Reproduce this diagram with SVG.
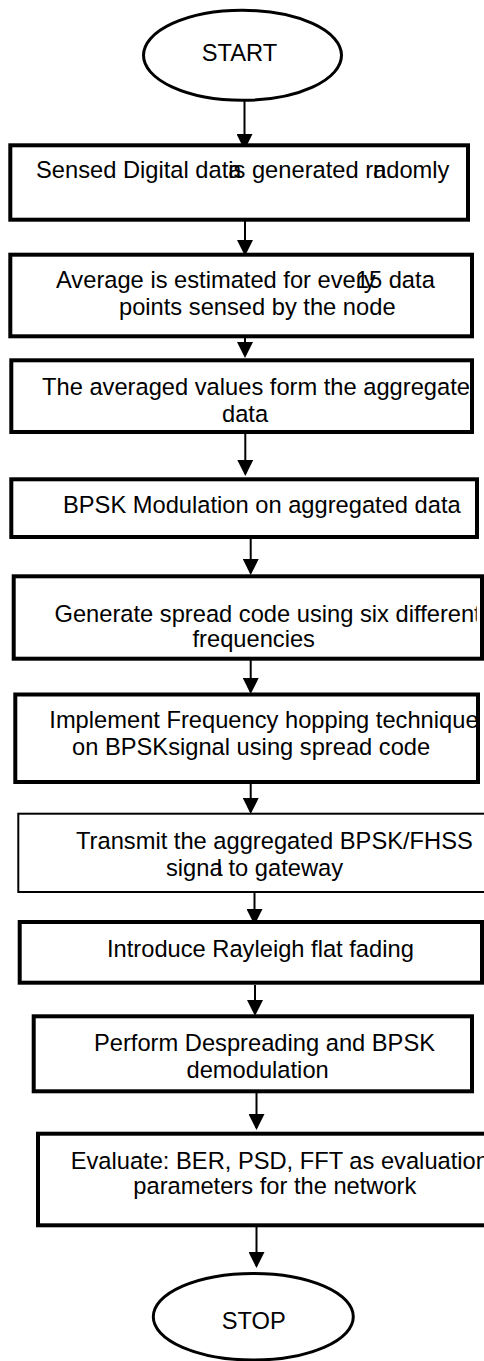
<svg xmlns="http://www.w3.org/2000/svg" width="484" height="1361" viewBox="0 0 484 1361">
<style>
.box{fill:#fff;stroke:#000;stroke-width:4}
.thin{stroke-width:2}
.term{fill:#fff;stroke:#000;stroke-width:3}
.t{font-family:"Liberation Sans",Arial,sans-serif;font-size:23.7px;fill:#000}
.conn{stroke:#000;stroke-width:2;fill:none;marker-end:url(#ah)}
</style>
<defs>
<marker id="ah" markerUnits="userSpaceOnUse" markerWidth="16" markerHeight="16" viewBox="0 0 16 16" refX="14" refY="8" orient="auto">
<path d="M0,0 L16,8 L0,16 z" fill="#000"/>
</marker>
<clipPath id="c3"><rect x="13.3" y="362" width="456.7" height="68"/></clipPath>
<clipPath id="c5"><rect x="15.7" y="578" width="461" height="78"/></clipPath>
<clipPath id="c6"><rect x="17.3" y="696" width="458.7" height="84"/></clipPath>
</defs>
<rect width="484" height="1361" fill="#fff"/>
<g id="connectors">
<line class="conn" x1="244.5" y1="100" x2="244.5" y2="148"/>
<line class="conn" x1="245" y1="221" x2="245" y2="254"/>
<line class="conn" x1="245" y1="338" x2="245" y2="356"/>
<line class="conn" x1="245.3" y1="434" x2="245.3" y2="474"/>
<line class="conn" x1="250.7" y1="539" x2="250.7" y2="573"/>
<line class="conn" x1="250.7" y1="660" x2="250.7" y2="692"/>
<line class="conn" x1="250.7" y1="784" x2="250.7" y2="812"/>
<line class="conn" x1="254.5" y1="892" x2="254.5" y2="923"/>
<line class="conn" x1="255" y1="985" x2="255" y2="1014"/>
<line class="conn" x1="256.5" y1="1093" x2="256.5" y2="1128"/>
<line class="conn" x1="256.5" y1="1227" x2="256.5" y2="1266"/>
</g>
<g id="start">
<ellipse class="term" cx="242.5" cy="55.3" rx="99" ry="45"/>
<text class="t" x="201.7" y="61">START</text>
</g>
<g id="n1">
<rect class="box" x="10.3" y="145.3" width="457.7" height="74.4"/>
<text class="t" x="36" y="178.3">Sensed Digital dat<tspan>a</tspan><tspan dx="-19.77"> is generated r</tspan>a<tspan dx="-13.2">ndomly</tspan></text>
</g>
<g id="n2">
<rect class="box" x="10.3" y="254.7" width="461.7" height="81.6"/>
<text class="t" x="56" y="288">Average is estimated for every<tspan dx="-26.3"> 15 data</tspan></text>
<text class="t" x="119" y="315">points sensed by the node</text>
</g>
<g id="n3">
<rect class="box" x="11.3" y="360.3" width="460.7" height="71.7"/>
<g clip-path="url(#c3)">
<text class="t" x="42" y="395">The averaged values form the aggregate</text>
<text class="t" x="222" y="421.7">data</text>
</g>
</g>
<g id="n4">
<rect class="box" x="11.3" y="479.3" width="465.7" height="57.7"/>
<text class="t" x="63" y="512.7">BPSK Modulation on aggregated data</text>
</g>
<g id="n5">
<rect class="box" x="13.7" y="576.3" width="468.3" height="82.4"/>
<g clip-path="url(#c5)">
<text class="t" x="54.5" y="621.7">Generate spread code using six different</text>
<text class="t" x="192.5" y="647">frequencies</text>
</g>
</g>
<g id="n6">
<rect class="box" x="15.3" y="694.5" width="462.7" height="87.5"/>
<g clip-path="url(#c6)">
<text class="t" x="49.3" y="728.3">Implement Frequency hopping technique</text>
<text class="t" x="72" y="755">on BPSKsignal using spread code</text>
</g>
</g>
<g id="n7">
<rect class="box thin" x="18.3" y="813.7" width="480" height="78.3"/>
<text class="t" x="76" y="849.3">Transmit the aggregated BPSK/FHSS</text>
<text class="t" x="166" y="875.7">signa<tspan dx="-6">l to gateway</tspan></text>
</g>
<g id="n8">
<rect class="box" x="19.7" y="922" width="462.3" height="60.7"/>
<text class="t" x="107" y="957.3">Introduce Rayleigh flat fading</text>
</g>
<g id="n9">
<rect class="box" x="33.7" y="1016.3" width="438.3" height="75"/>
<text class="t" x="94" y="1050.7">Perform Despreading and BPSK</text>
<text class="t" x="186.5" y="1077.7">demodulation</text>
</g>
<g id="n10">
<rect class="box" x="38" y="1133.7" width="470" height="91.6"/>
<text class="t" x="70.7" y="1168.7">Evaluate: BER, PSD, FFT as evaluation</text>
<text class="t" x="133.3" y="1194.3">parameters for the network</text>
</g>
<g id="stop">
<ellipse class="term" cx="253.3" cy="1316.7" rx="100" ry="43.3" stroke-width="3.5"/>
<text class="t" x="221.7" y="1329.3">STOP</text>
</g>
</svg>
